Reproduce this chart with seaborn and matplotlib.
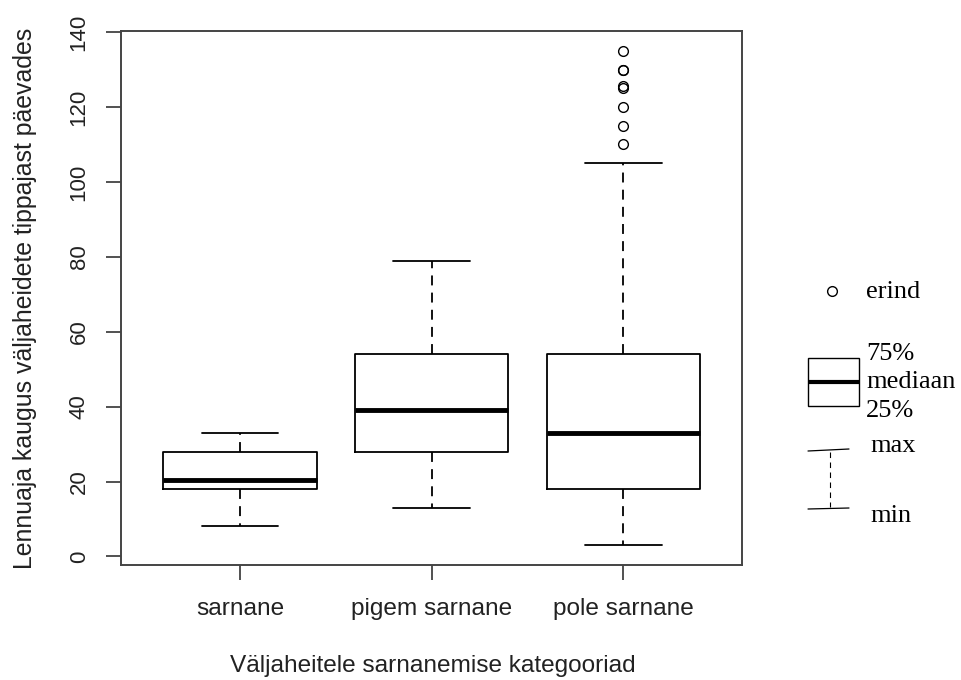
import matplotlib
matplotlib.use("Agg")
import matplotlib.pyplot as plt
import seaborn as sns
from matplotlib.lines import Line2D
from matplotlib.patches import Rectangle

categories = ["sarnane", "pigem sarnane", "pole sarnane"]
whisker_low = [8, 13, 3]
q1 = [18, 28, 18]
median = [20.5, 39, 33]
q3 = [28, 54, 54]
whisker_high = [33, 79, 105]
outliers = [[], [], [110, 115, 120, 125, 125.5, 130, 130, 135]]
y_ticks = [0, 20, 40, 60, 80, 100, 120, 140]

sns.set_theme(style="white")
plt.rcParams["font.family"] = ["Liberation Sans", "DejaVu Sans"]

fig = plt.figure(figsize=(9.61, 6.8), dpi=100)
ax = fig.add_axes([121 / 961, (680 - 565) / 680, (742 - 121) / 961, (565 - 31) / 680])

stats = []
for i, name in enumerate(categories):
    stats.append(dict(label=name, whislo=whisker_low[i], q1=q1[i], med=median[i],
                      q3=q3[i], whishi=whisker_high[i], fliers=outliers[i]))

ax.bxp(stats, positions=[1, 2, 3], widths=0.8, patch_artist=False,
       boxprops=dict(color="black", linewidth=1.3),
       medianprops=dict(color="black", linewidth=3.5, solid_capstyle="butt"),
       whiskerprops=dict(color="black", linewidth=1.3, linestyle=(0, (5.5, 4))),
       capprops=dict(color="black", linewidth=1.3),
       capwidths=0.4,
       flierprops=dict(marker="o", markersize=7, markerfacecolor="none",
                       markeredgecolor="black", markeredgewidth=1.0, linestyle="none"))

ax.set_xlim(0.38, 3.62)
ax.set_ylim(-2.28, 140.28)
ax.set_yticks(y_ticks)
ax.set_yticklabels([str(t) for t in y_ticks], rotation=90, va="center")
ax.set_xticks([1, 2, 3])
ax.set_xticklabels(categories)
ax.tick_params(axis="both", which="major", direction="out", length=10.5, width=1.2,
               color="#333333", labelcolor="#222222", bottom=True, left=True)
ax.tick_params(axis="x", labelsize=17.6, pad=13)
ax.tick_params(axis="y", labelsize=16, pad=12)
for s in ax.spines.values():
    s.set_visible(True)
    s.set_color("#444444")
    s.set_linewidth(1.4)

ax.set_ylabel("Lennuaja kaugus väljaheidete tippajast päevades", fontsize=17.9,
              color="#222222", va="baseline")
ax.yaxis.set_label_coords((32 - 121) / 621, 0.5)
ax.set_xlabel("Väljaheitele sarnanemise kategooriad", fontsize=17.6,
              color="#222222", va="baseline")
ax.xaxis.set_label_coords((433 - 121) / 621, (565 - 672) / 534)

# hand-made legend on the right, in figure pixel coordinates
ov = fig.add_axes([0, 0, 1, 1], facecolor="none")
ov.set_xlim(0, 961)
ov.set_ylim(680, 0)
ov.axis("off")
serif = dict(family=["Liberation Serif", "DejaVu Serif"], fontsize=19, color="black")

ov.add_line(Line2D([832], [291], marker="o", markersize=7, markerfacecolor="none",
                   markeredgecolor="black", markeredgewidth=1.0))
ov.text(866, 292, "erind", va="center", ha="left", **serif)

ov.add_patch(Rectangle((808, 358), 51, 48, fill=False, edgecolor="black", linewidth=1.0))
ov.add_line(Line2D([808, 859], [382, 382], color="black", linewidth=3.0, solid_capstyle="butt"))
ov.text(866, 354, "75%", va="center", ha="left", **serif)
ov.text(866, 382, "mediaan", va="center", ha="left", **serif)
ov.text(866, 411, "25%", va="center", ha="left", **serif)

ov.add_line(Line2D([808, 849], [451, 449], color="black", linewidth=0.9))
ov.add_line(Line2D([830, 830], [452, 507], color="black", linewidth=0.8, linestyle=(0, (5, 4))))
ov.add_line(Line2D([808, 849], [509, 508], color="black", linewidth=0.9))
ov.text(870, 446, "max", va="center", ha="left", **serif)
ov.text(870, 516, "min", va="center", ha="left", **serif)

fig.savefig("out.png", dpi=100, facecolor="white")
